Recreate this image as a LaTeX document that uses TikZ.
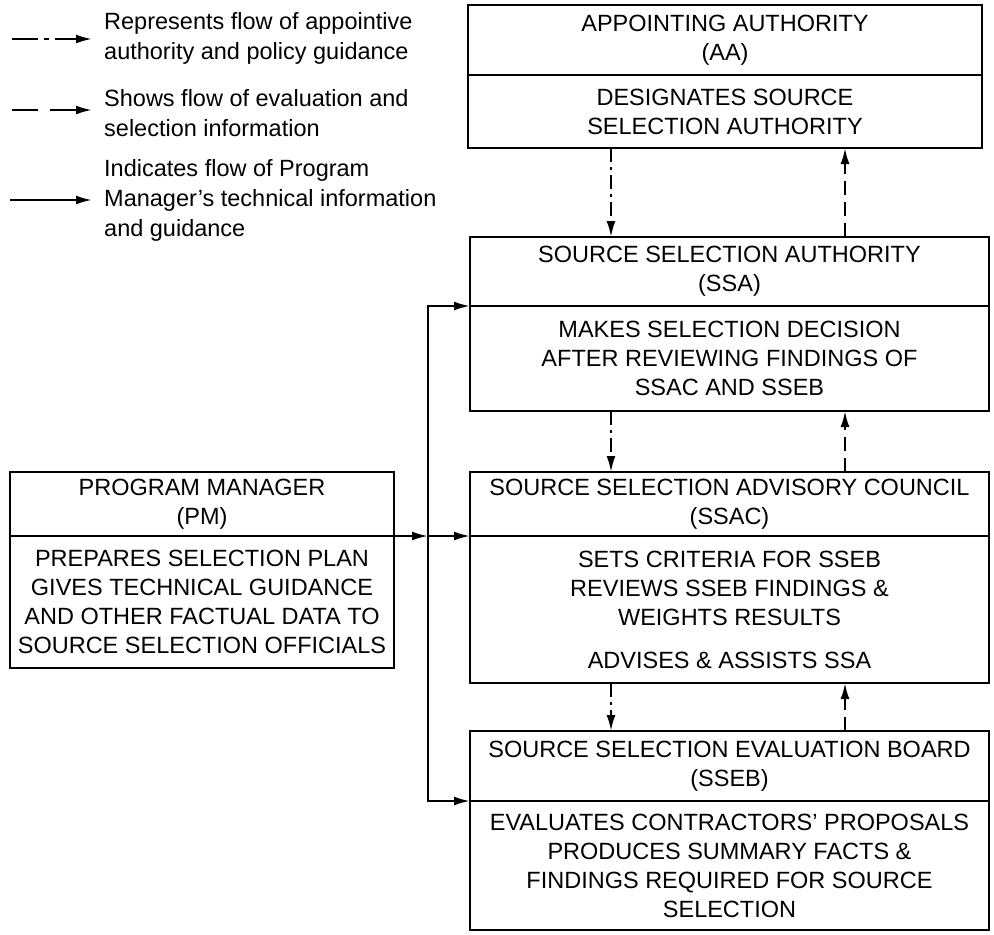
\documentclass[tikz,border=0pt]{standalone}
\usepackage{fontspec}
\setmainfont{Liberation Sans}
\usetikzlibrary{arrows.meta}
\newcommand{\boxfont}{\fontsize{23.5}{29}\selectfont}
\newcommand{\legfont}{\fontsize{23.5}{30}\selectfont}
\tikzset{
  box/.style={draw, line width=2.6pt, inner sep=0pt, outer sep=0pt, align=center, anchor=north west, font=\boxfont},
  legend/.style={inner sep=0pt, align=left, anchor=west, font=\legfont},
  conn/.style={line width=2.2pt, -{Latex[length=16pt,width=9pt]}},
  apparrow/.style={conn, dash pattern=on 14pt off 5pt on 3pt off 5pt},
  evalarrow/.style={conn, dash pattern=on 14pt off 7pt},
  pmarrow/.style={conn},
}
\begin{document}
\begin{tikzpicture}[x=1pt,y=-1pt]
\useasboundingbox (0,0) rectangle (994,935);
\fill[white] (0,0) rectangle (994,935);

% ---------- legend ----------
\coordinate (l1s) at (12,39);  \coordinate (l1e) at (92,39);
\coordinate (l2s) at (12,110); \coordinate (l2e) at (92,110);
\coordinate (l3s) at (10,200); \coordinate (l3e) at (92,200);
\draw[conn, dash pattern=on 26pt off 6pt on 5pt off 6pt on 60pt] (l1s) -- (l1e);
\draw[conn, dash pattern=on 26pt off 12pt on 60pt] (l2s) -- (l2e);
\draw[pmarrow] (l3s) -- (l3e);
\node[legend] (t1) at (104,38) {Represents flow of appointive\\authority and policy guidance};
\node[legend] (t2) at (104,113) {Shows flow of evaluation and\\selection information};
\node[legend] (t3) at (104,200) {Indicates flow of Program\\Manager's technical information\\and guidance};

% ---------- boxes ----------
\node[box, minimum width=514pt, minimum height=70pt] (aaH) at (468,5) {APPOINTING AUTHORITY\\(AA)};
\node[box, minimum width=514pt, minimum height=73pt] (aaB) at (aaH.south west) {DESIGNATES SOURCE\\SELECTION AUTHORITY};

\node[box, minimum width=519pt, minimum height=69pt] (ssaH) at (470,237) {SOURCE SELECTION AUTHORITY\\(SSA)};
\node[box, minimum width=519pt, minimum height=105pt] (ssaB) at (ssaH.south west) {MAKES SELECTION DECISION\\AFTER REVIEWING FINDINGS OF\\SSAC AND SSEB};

\node[box, minimum width=519pt, minimum height=64pt] (ssacH) at (470,472) {SOURCE SELECTION ADVISORY COUNCIL\\(SSAC)};
\node[box, minimum width=519pt, minimum height=147pt] (ssacB) at (ssacH.south west) {SETS CRITERIA FOR SSEB\\REVIEWS SSEB FINDINGS \&\\WEIGHTS RESULTS\\[14pt]ADVISES \& ASSISTS SSA};

\node[box, minimum width=519pt, minimum height=70pt] (sseH) at (470,731) {SOURCE SELECTION EVALUATION BOARD\\(SSEB)};
\node[box, minimum width=519pt, minimum height=129pt] (sseB) at (sseH.south west) {EVALUATES CONTRACTORS' PROPOSALS\\PRODUCES SUMMARY FACTS \&\\FINDINGS REQUIRED FOR SOURCE\\SELECTION};

\node[box, minimum width=384pt, minimum height=64pt] (pmH) at (10,472) {PROGRAM MANAGER\\(PM)};
\node[box, minimum width=384pt, minimum height=132pt] (pmB) at (pmH.south west) {PREPARES SELECTION PLAN\\GIVES TECHNICAL GUIDANCE\\AND OTHER FACTUAL DATA TO\\SOURCE SELECTION OFFICIALS};

% ---------- vertical flows ----------
\coordinate (xL) at (611,0);
\coordinate (xR) at (845,0);
\coordinate (xJ) at (428,0);

\draw[apparrow] (aaB.south -| xL) -- (ssaH.north -| xL);
\draw[evalarrow] (ssaH.north -| xR) -- (aaB.south -| xR);
\draw[apparrow] (ssaB.south -| xL) -- (ssacH.north -| xL);
\draw[evalarrow] (ssacH.north -| xR) -- (ssaB.south -| xR);
\draw[apparrow] (ssacB.south -| xL) -- (sseH.north -| xL);
\draw[evalarrow] (sseH.north -| xR) -- (ssacB.south -| xR);

% ---------- program manager flows ----------
\coordinate (jc) at (pmB.north east -| xJ);
\draw[pmarrow] (pmB.north east) -- (jc);
\draw[pmarrow] (jc) -- (ssacB.north west);
\draw[pmarrow] (jc) |- (ssaB.north west);
\draw[pmarrow] (jc) |- (sseB.north west);
\end{tikzpicture}
\end{document}
